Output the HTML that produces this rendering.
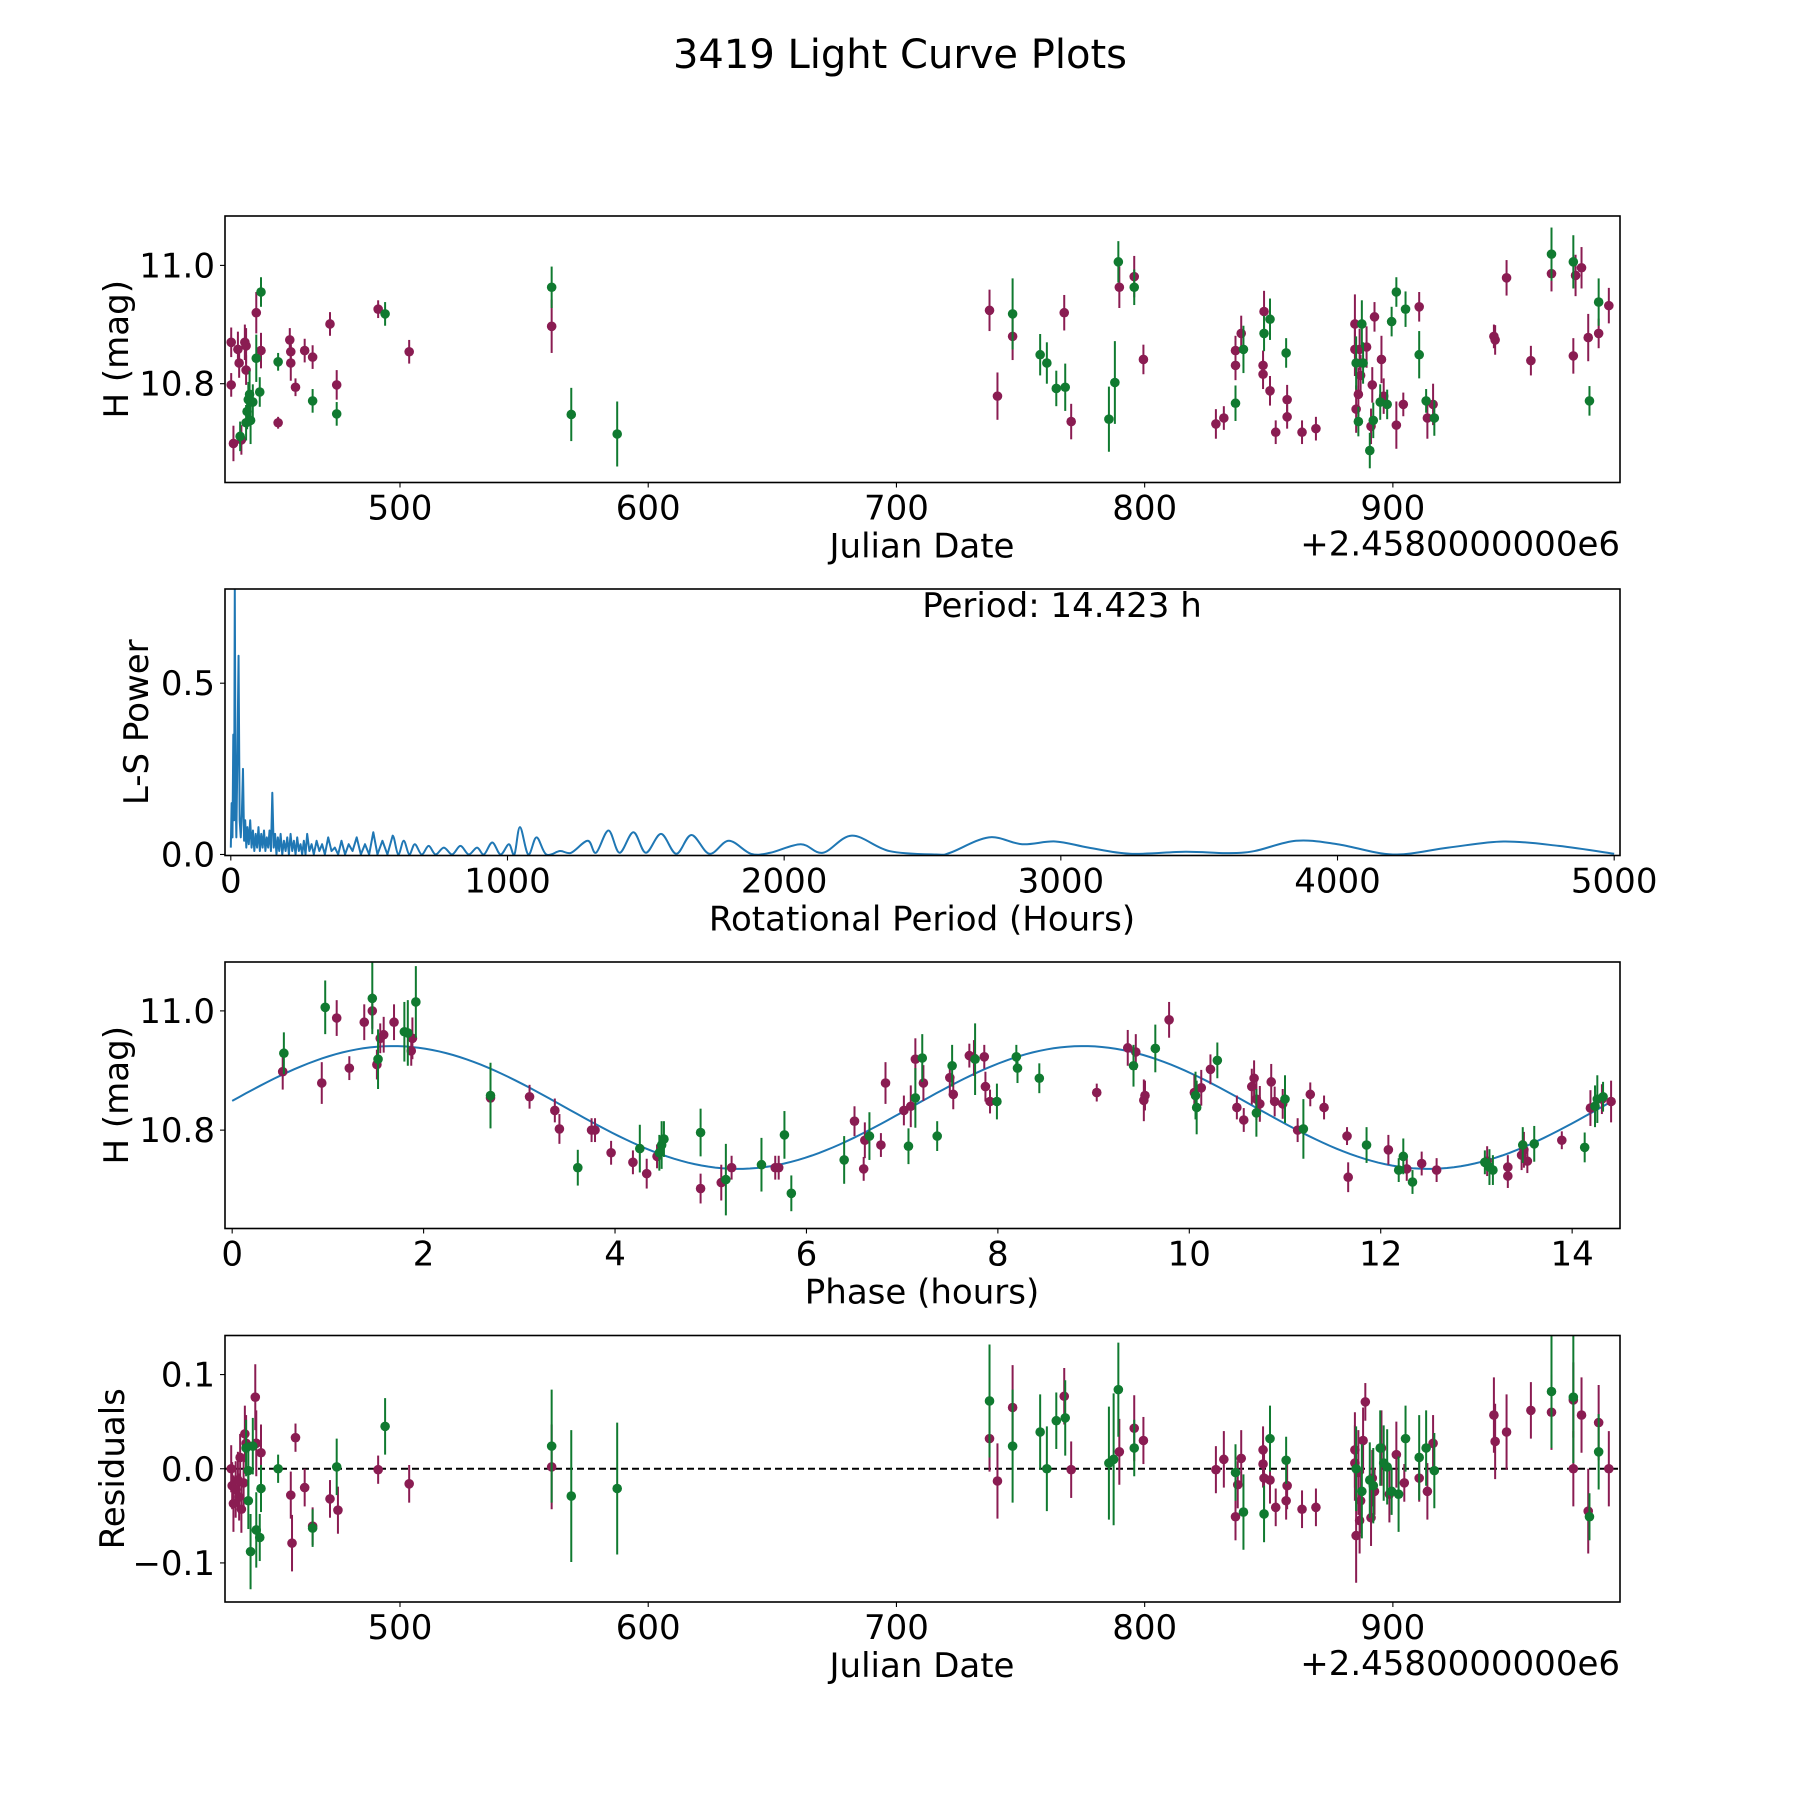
<!DOCTYPE html>
<html><head><meta charset="utf-8"><title>3419 Light Curve Plots</title>
<style>
html,body{margin:0;padding:0;background:#fff;}
svg{display:block;font-family:"DejaVu Sans","Liberation Sans",sans-serif;}
</style></head>
<body>
<svg id="fig" xmlns="http://www.w3.org/2000/svg" width="1800" height="1800" viewBox="0 0 1800 1800">
<rect width="1800" height="1800" fill="#fff"/>
<text x="900" y="68" font-size="40" text-anchor="middle">3419 Light Curve Plots</text>
</svg>
<script>
// ---------- DATA ----------
// Panel 1: light curve [julianDate-2458000, H mag, error]
const lcPurple = [[432,10.870,.025],[432,10.798,.02],[432.9,10.699,.03],[434.7,10.858,.03],[435.2,10.835,.025],[436.1,10.705,.025],[437.5,10.870,.03],[438,10.864,.03],[438,10.823,.025],[442.1,10.920,.035],[444,10.856,.03],[450.9,10.734,.01],[455.6,10.874,.02],[456,10.854,.025],[456,10.835,.03],[457.9,10.794,.015],[461.6,10.856,.02],[464.8,10.845,.02],[471.8,10.901,.02],[474.5,10.798,.025],[491.2,10.926,.015],[503.7,10.854,.02],[561.1,10.897,.045],[737.5,10.924,.035],[740.7,10.779,.04],[746.8,10.880,.04],[767.6,10.920,.03],[770.4,10.736,.03],[789.8,10.963,.035],[795.8,10.981,.035],[799.5,10.841,.025],[828.7,10.732,.025],[831.9,10.742,.02],[836.6,10.856,.025],[836.6,10.831,.025],[838.9,10.885,.03],[847.7,10.831,.025],[847.7,10.816,.025],[848.1,10.922,.035],[850.5,10.788,.025],[852.8,10.718,.02],[857.4,10.744,.02],[857.4,10.773,.025],[863.4,10.718,.02],[869,10.724,.02],[884.7,10.901,.05],[884.7,10.858,.045],[885.2,10.757,.04],[886.1,10.782,.045],[886.6,10.858,.035],[887,10.814,.035],[889.4,10.862,.035],[891.2,10.728,.03],[891.7,10.798,.03],[892.6,10.913,.025],[895.4,10.841,.04],[896.3,10.779,.03],[901.4,10.730,.04],[904.2,10.765,.02],[910.6,10.930,.025],[913.9,10.742,.035],[916.2,10.765,.035],[940.7,10.880,.02],[941.2,10.874,.025],[945.8,10.979,.03],[955.6,10.839,.025],[963.9,10.986,.03],[972.7,10.847,.03],[973.6,10.983,.035],[976,10.996,.035],[978.7,10.878,.04],[982.9,10.885,.025],[987,10.932,.03]];
const lcGreen = [[435.6,10.711,.025],[438,10.734,.03],[438.4,10.753,.03],[438.9,10.773,.03],[439.4,10.782,.04],[439.8,10.738,.04],[440.7,10.769,.03],[442.1,10.843,.04],[443.5,10.786,.025],[444,10.955,.025],[450.9,10.837,.015],[464.8,10.771,.02],[474.5,10.749,.02],[494,10.918,.02],[561.1,10.963,.035],[569,10.748,.045],[587.5,10.715,.055],[746.8,10.918,.06],[757.9,10.849,.035],[760.6,10.835,.035],[764.4,10.792,.03],[768,10.794,.04],[785.6,10.740,.055],[788,10.802,.07],[789.4,11.006,.035],[795.8,10.963,.03],[836.6,10.767,.03],[839.8,10.858,.04],[848.1,10.885,.03],[850.5,10.909,.035],[857,10.852,.025],[885.2,10.835,.045],[886.1,10.736,.025],[887.5,10.901,.04],[888,10.835,.035],[890.7,10.687,.03],[892.1,10.738,.03],[894.9,10.769,.03],[897.7,10.765,.025],[899.5,10.905,.025],[901.4,10.955,.025],[905.1,10.926,.03],[910.6,10.849,.04],[913.4,10.771,.02],[916.7,10.742,.03],[963.9,11.019,.045],[972.7,11.006,.045],[979.2,10.771,.025],[982.9,10.938,.04]];
const jdTicks = [500,600,700,800,900];

// Panel 2: periodogram [period hours, L-S power]
const lsPeriods = [0,3,6,9,12,14.4,17,20,24,28,32,36,40,44,48,52,56,60,65,70,75,80,85,90,95,100,105,110,115,120,125,130,135,140,145,150,155,160,165,170,175,180,186,192,198,204,210,216,222,228,234,240,246,252,258,264,270,276,284,292,300,310,320,330,340,352,364,376,388,400,413,426,440,455,470,485,500,515,530,548,566,585,605,625,645,665,690,715,740,770,800,830,860,890,915,945,975,1005,1025,1045,1075,1105,1140,1190,1230,1290,1320,1365,1405,1455,1500,1555,1610,1665,1730,1800,1880,1950,2060,2140,2245,2380,2550,2600,2740,2860,2980,3100,3250,3450,3600,3700,3850,4000,4200,4400,4600,4800,5000];
const lsPower = [0.02,0.15,0.05,0.35,0.1,0.78,0.2,0.05,0.3,0.58,0.1,0.05,0.12,0.25,0.04,0.1,0.02,0.08,0.03,0.1,0.02,0.07,0.01,0.06,0.02,0.08,0.01,0.06,0.02,0.07,0.01,0.05,0.02,0.07,0.01,0.18,0.02,0.06,0.0,0.05,0.01,0.06,0.0,0.04,0.01,0.05,0.0,0.06,0.01,0.04,0.0,0.05,0.01,0.03,0.0,0.04,0.0,0.06,0.01,0.03,0.0,0.04,0.01,0.03,0.0,0.05,0.01,0.02,0.0,0.04,0.0,0.03,0.01,0.05,0.0,0.03,0.0,0.065,0.0,0.04,0.0,0.055,0.0,0.04,0.0,0.03,0.0,0.025,0.0,0.02,0.0,0.025,0.0,0.02,0.0,0.035,0.0,0.03,0.0,0.08,0.0,0.05,0.0,0.01,0.005,0.04,0.005,0.07,0.005,0.065,0.005,0.06,0.002,0.057,0.002,0.04,0.002,0.005,0.03,0.005,0.055,0.01,0.0,0.005,0.05,0.03,0.038,0.02,0.002,0.008,0.004,0.01,0.04,0.03,0.0,0.02,0.038,0.025,0.002];
const lsXTicks = [0,1000,2000,3000,4000,5000];
const lsYTicks = [0.0,0.5];

// Panel 3: phased curve [phase hours, mag, error]
const phPurple = [[0.528,10.898,.03],[0.936,10.879,.035],[1.092,10.988,.03],[1.224,10.904,.02],[1.380,10.981,.03],[1.464,11.0,.03],[1.512,10.910,.025],[1.547,10.954,.025],[1.583,10.960,.03],[1.691,10.981,.03],[1.871,10.933,.025],[1.883,10.954,.035],[2.699,10.854,.03],[3.107,10.856,.02],[3.371,10.833,.02],[3.419,10.802,.025],[3.755,10.800,.02],[3.791,10.800,.02],[3.959,10.762,.02],[4.187,10.746,.02],[4.331,10.727,.025],[4.439,10.756,.02],[4.894,10.702,.025],[5.110,10.712,.03],[5.218,10.737,.02],[5.674,10.737,.02],[5.710,10.737,.02],[6.502,10.815,.025],[6.598,10.735,.02],[6.610,10.783,.03],[6.778,10.775,.02],[6.826,10.879,.035],[7.018,10.833,.025],[7.090,10.840,.035],[7.138,10.919,.035],[7.222,10.879,.03],[7.498,10.888,.025],[7.534,10.860,.025],[7.702,10.925,.02],[7.750,10.921,.03],[7.858,10.923,.02],[7.870,10.873,.025],[7.918,10.848,.02],[9.033,10.863,.015],[9.357,10.938,.03],[9.441,10.931,.03],[9.525,10.850,.035],[9.537,10.858,.025],[9.789,10.985,.03],[10.053,10.863,.03],[10.125,10.871,.03],[10.221,10.902,.025],[10.497,10.838,.02],[10.569,10.817,.02],[10.653,10.873,.03],[10.677,10.887,.03],[10.701,10.852,.035],[10.737,10.844,.03],[10.856,10.881,.03],[10.892,10.848,.025],[10.976,10.844,.025],[11.132,10.800,.02],[11.264,10.860,.02],[11.408,10.838,.02],[11.648,10.790,.015],[11.660,10.721,.025],[12.080,10.767,.025],[12.272,10.735,.02],[12.428,10.744,.02],[12.584,10.733,.02],[13.112,10.748,.025],[13.328,10.723,.02],[13.328,10.738,.02],[13.472,10.758,.025],[13.496,10.767,.03],[13.532,10.748,.02],[13.892,10.783,.015],[14.191,10.837,.03],[14.311,10.852,.025],[14.407,10.848,.035]];
const phGreen = [[0.540,10.929,.035],[0.972,11.006,.045],[1.464,11.021,.06],[1.524,10.919,.05],[1.799,10.965,.05],[1.835,10.963,.055],[1.919,11.015,.06],[2.699,10.858,.055],[3.611,10.737,.03],[4.259,10.769,.04],[4.463,10.762,.03],[4.487,10.775,.04],[4.511,10.785,.03],[4.894,10.796,.04],[5.158,10.717,.06],[5.530,10.742,.045],[5.770,10.792,.04],[5.842,10.694,.03],[6.394,10.750,.04],[6.658,10.790,.04],[7.066,10.773,.03],[7.138,10.854,.05],[7.210,10.921,.04],[7.366,10.790,.025],[7.522,10.908,.035],[7.762,10.919,.06],[7.990,10.848,.03],[8.193,10.923,.02],[8.205,10.904,.025],[8.433,10.887,.025],[9.417,10.908,.035],[9.645,10.937,.04],[10.065,10.858,.04],[10.077,10.838,.045],[10.293,10.917,.03],[10.701,10.829,.04],[11.000,10.852,.04],[11.192,10.802,.05],[11.852,10.775,.03],[12.188,10.733,.02],[12.236,10.756,.03],[12.332,10.713,.02],[13.088,10.746,.02],[13.136,10.738,.03],[13.172,10.733,.025],[13.484,10.775,.03],[13.604,10.777,.03],[14.131,10.771,.025],[14.239,10.840,.035],[14.263,10.852,.04],[14.323,10.856,.025]];
const fitParams = [10.838, 0.103, 1.68, 7.2115]; // mean, amplitude, peak phase, half period
const phXTicks = [0,2,4,6,8,10,12,14];
const magTicks = [10.8,11.0];

// Panel 4: residuals [julianDate-2458000, residual, error]
const resPurple = [[432,0,.025],[432.4,-0.018,.025],[432.9,-0.037,.03],[433.8,-0.022,.03],[434.7,-0.012,.03],[435.2,-0.030,.025],[435.6,0.012,.025],[436.1,-0.043,.025],[437,-0.015,.03],[437.5,0.037,.03],[438,0.027,.03],[441.7,0.076,.035],[442.1,0.027,.035],[444,0.017,.03],[456,-0.028,.025],[456.5,-0.079,.03],[457.9,0.033,.015],[461.6,-0.020,.02],[464.8,-0.061,.02],[471.8,-0.032,.02],[475,-0.044,.025],[491.2,-0.001,.015],[503.7,-0.016,.02],[561.1,0.002,.045],[737.5,0.032,.035],[740.7,-0.013,.04],[746.8,0.065,.045],[767.6,0.077,.03],[770.4,-0.001,.03],[789.8,0.018,.035],[795.8,0.043,.035],[799.5,0.030,.025],[828.7,-0.001,.025],[831.9,0.010,.03],[836.6,-0.051,.025],[837.5,-0.017,.025],[838.9,0.011,.03],[847.7,0.020,.025],[847.7,0.005,.025],[848.1,-0.010,.035],[850.5,-0.012,.025],[852.8,-0.041,.02],[857,-0.034,.02],[857.4,-0.018,.025],[863.4,-0.043,.02],[869,-0.041,.02],[884.7,0.020,.04],[884.7,0.006,.04],[885.2,-0.071,.05],[886.1,-0.004,.045],[886.6,-0.055,.035],[887,-0.034,.035],[888,0.030,.035],[888.9,0.071,.02],[891.2,-0.052,.03],[891.7,-0.010,.03],[892.6,-0.024,.025],[895.4,0.022,.04],[898.6,-0.027,.03],[901.4,0.015,.035],[904.6,-0.015,.02],[910.6,-0.010,.025],[913.9,-0.024,.03],[916.2,0.027,.03],[940.7,0.057,.04],[941.2,0.029,.04],[945.8,0.039,.04],[955.6,0.062,.03],[963.9,0.060,.04],[972.7,0.0,.04],[972.7,0.073,.04],[976,0.057,.04],[978.7,-0.045,.045],[982.9,0.049,.04],[987,0.0,.04]];
const resGreen = [[438,0.022,.03],[438.9,-0.034,.03],[438.9,-0.002,.03],[439.8,-0.088,.04],[440.7,0.024,.03],[442.1,-0.065,.04],[443.5,-0.073,.025],[444,-0.021,.025],[450.9,0.0,.015],[464.8,-0.063,.02],[474.5,0.002,.03],[494,0.045,.03],[561.1,0.024,.06],[569,-0.029,.07],[587.5,-0.021,.07],[737.5,0.072,.06],[746.8,0.024,.06],[757.9,0.039,.04],[760.6,0.0,.045],[764.4,0.051,.03],[768,0.054,.04],[785.6,0.006,.06],[787.5,0.010,.07],[789.4,0.084,.05],[795.8,0.022,.03],[836.6,-0.004,.03],[839.8,-0.046,.04],[848.1,-0.048,.03],[850.5,0.032,.035],[857,0.009,.025],[885.2,0.0,.045],[887.5,-0.024,.05],[890.7,-0.012,.04],[892.1,-0.018,.04],[894.9,0.022,.04],[896.3,0.006,.04],[897.7,0.002,.04],[899.5,-0.024,.025],[902.3,-0.027,.04],[905.1,0.032,.035],[910.6,0.012,.045],[913.4,0.022,.04],[916.7,-0.002,.04],[963.9,0.082,.06],[972.7,0.076,.07],[979.2,-0.051,.025],[982.9,0.018,.04]];
const resTicks = [-0.1,0.0,0.1];

// ---------- DRAWING ----------
const NS = 'http://www.w3.org/2000/svg';
const svg = document.getElementById('fig');
const PURPLE = '#8a1c52', GREEN = '#107a30', BLUE = '#1f77b4';
const L = 225, R = 1620, H = 266.5;
const TOPS = [216, 589, 962, 1335.5];
const FS = 34;

function mk(tag, attrs, parent) {
  const e = document.createElementNS(NS, tag);
  for (const k in attrs) e.setAttribute(k, attrs[k]);
  (parent || svg).appendChild(e);
  return e;
}
function axis(top, xlim, ylim) {
  return {
    top: top, bottom: top + H,
    x: v => L + (v - xlim[0]) / (xlim[1] - xlim[0]) * (R - L),
    y: v => top + H - (v - ylim[0]) / (ylim[1] - ylim[0]) * H
  };
}
function clipFor(ax, id) {
  const cp = mk('clipPath', {id: id});
  mk('rect', {x: L, y: ax.top, width: R - L, height: H}, cp);
  return 'url(#' + id + ')';
}
function frame(ax, name) {
  const r = mk('rect', {x: L, y: ax.top, width: R - L, height: H, fill: 'none', stroke: '#000', 'stroke-width': 1.6});
  
  
}
function xTicks(ax, ticks, fmt, name) {
  const g = mk('g', {});
  
  
  ticks.forEach(t => {
    const px = ax.x(t);
    mk('line', {x1: px, x2: px, y1: ax.bottom, y2: ax.bottom + 5, stroke: '#000', 'stroke-width': 1.1}, g);
    const tx = mk('text', {x: px, y: ax.bottom + 37, 'font-size': FS, 'text-anchor': 'middle'}, g);
    tx.textContent = fmt(t);
    
    
  });
}
function yTicks(ax, ticks, fmt, name) {
  const g = mk('g', {});
  
  
  ticks.forEach(t => {
    const py = ax.y(t);
    mk('line', {x1: L - 5, x2: L, y1: py, y2: py, stroke: '#000', 'stroke-width': 1.1}, g);
    const tx = mk('text', {x: L - 10, y: py + 12, 'font-size': FS, 'text-anchor': 'end'}, g);
    tx.textContent = fmt(t);
    
    
  });
}
function label(txt, x, y, rot, name) {
  const t = mk('text', {x: x, y: y, 'font-size': FS, 'text-anchor': 'middle'});
  if (rot) t.setAttribute('transform', 'rotate(-90 ' + x + ' ' + y + ')');
  t.textContent = txt;
  
  
}
function errPoints(ax, pts, color, clip, name) {
  const g = mk('g', {'clip-path': clip});
  
  
  pts.forEach(p => {
    const px = ax.x(p[0]);
    mk('line', {x1: px, x2: px, y1: ax.y(p[1] - p[2]), y2: ax.y(p[1] + p[2]), stroke: color, 'stroke-width': 2}, g);
  });
  pts.forEach(p => {
    const c = mk('circle', {cx: ax.x(p[0]), cy: ax.y(p[1]), r: 4.8, fill: color}, g);
    
    
  });
}
const fmt1 = v => v.toFixed(1).replace('-', '\u2212');
const fmtInt = v => String(v);

// Panel 1
const ax1 = axis(TOPS[0], [429.5, 991.5], [10.633, 11.0835]);
const c1 = clipFor(ax1, 'clip1');
errPoints(ax1, lcPurple, PURPLE, c1, 'lightcurve-series-purple');
errPoints(ax1, lcGreen, GREEN, c1, 'lightcurve-series-green');
frame(ax1, 'lightcurve');
xTicks(ax1, jdTicks, fmtInt, 'lightcurve');
yTicks(ax1, magTicks, fmt1, 'lightcurve');
label('Julian Date', 922, ax1.bottom + 75, false, 'lightcurve-x-axis-title');
label('H (mag)', 128, ax1.top + H / 2, true, 'lightcurve-y-axis-title');
(function(){ const t = mk('text', {x: R, y: ax1.bottom + 73, 'font-size': FS, 'text-anchor': 'end'}); t.textContent = '+2.4580000000e6';

 })();

// Panel 2
const ax2 = axis(TOPS[1], [-21, 5021], [-0.003, 0.775]);
const c2 = clipFor(ax2, 'clip2');
(function(){
  const P = lsPeriods.map((p, i) => [ax2.x(p), ax2.y(lsPower[i])]);
  let d = 'M' + P[0][0].toFixed(2) + ' ' + P[0][1].toFixed(2);
  for (let i = 1; i < P.length; i++) {
    if (lsPeriods[i] <= 600) { d += ' L' + P[i][0].toFixed(2) + ' ' + P[i][1].toFixed(2); continue; }
    const p0 = P[i - 2] || P[i - 1], p1 = P[i - 1], p2 = P[i], p3 = P[i + 1] || P[i];
    const c1x = p1[0] + (p2[0] - p0[0]) / 6, c1y = p1[1] + (p2[1] - p0[1]) / 6;
    const c2x = p2[0] - (p3[0] - p1[0]) / 6, c2y = p2[1] - (p3[1] - p1[1]) / 6;
    d += ' C' + c1x.toFixed(2) + ' ' + c1y.toFixed(2) + ' ' + c2x.toFixed(2) + ' ' + c2y.toFixed(2) + ' ' + p2[0].toFixed(2) + ' ' + p2[1].toFixed(2);
  }
  const p = mk('path', {d: d, fill: 'none', stroke: BLUE, 'stroke-width': 2, 'stroke-linejoin': 'round', 'clip-path': c2});
  
  
})();
frame(ax2, 'periodogram');
xTicks(ax2, lsXTicks, fmtInt, 'periodogram');
yTicks(ax2, lsYTicks, fmt1, 'periodogram');
label('Rotational Period (Hours)', 922, ax2.bottom + 75, false, 'periodogram-x-axis-title');
label('L-S Power', 148, ax2.top + H / 2, true, 'periodogram-y-axis-title');
(function(){ const t = mk('text', {x: 1062, y: 617, 'font-size': FS, 'text-anchor': 'middle'}); t.textContent = 'Period: 14.423 h';

 })();

// Panel 3
const ax3 = axis(TOPS[2], [-0.075, 14.5], [10.635, 11.082]);
const c3 = clipFor(ax3, 'clip3');
(function(){
  let d = '';
  for (let i = 0; i <= 200; i++) {
    const t = 14.423 * i / 200;
    const v = fitParams[0] + fitParams[1] * Math.cos(2 * Math.PI * (t - fitParams[2]) / fitParams[3]);
    d += (i ? ' L' : 'M') + ax3.x(t).toFixed(2) + ' ' + ax3.y(v).toFixed(2);
  }
  const p = mk('path', {d: d, fill: 'none', stroke: BLUE, 'stroke-width': 2, 'clip-path': c3});
  
  
})();
errPoints(ax3, phPurple, PURPLE, c3, 'phase-series-purple');
errPoints(ax3, phGreen, GREEN, c3, 'phase-series-green');
frame(ax3, 'phase');
xTicks(ax3, phXTicks, fmtInt, 'phase');
yTicks(ax3, magTicks, fmt1, 'phase');
label('Phase (hours)', 922, ax3.bottom + 75, false, 'phase-x-axis-title');
label('H (mag)', 128, ax3.top + H / 2, true, 'phase-y-axis-title');

// Panel 4
const ax4 = axis(TOPS[3], [429.5, 991.5], [-0.1415, 0.1415]);
const c4 = clipFor(ax4, 'clip4');
(function(){ const z = mk('line', {x1: L, x2: R, y1: ax4.y(0), y2: ax4.y(0), stroke: '#000', 'stroke-width': 2, 'stroke-dasharray': '7,4'});

 })();
errPoints(ax4, resPurple, PURPLE, c4, 'residual-series-purple');
errPoints(ax4, resGreen, GREEN, c4, 'residual-series-green');
frame(ax4, 'residuals');
xTicks(ax4, jdTicks, fmtInt, 'residuals');
yTicks(ax4, resTicks, fmt1, 'residuals');
label('Julian Date', 922, ax4.bottom + 75, false, 'residuals-x-axis-title');
label('Residuals', 124, ax4.top + H / 2, true, 'residuals-y-axis-title');
(function(){ const t = mk('text', {x: R, y: ax4.bottom + 73, 'font-size': FS, 'text-anchor': 'end'}); t.textContent = '+2.4580000000e6';

 })();
</script>
</body></html>
